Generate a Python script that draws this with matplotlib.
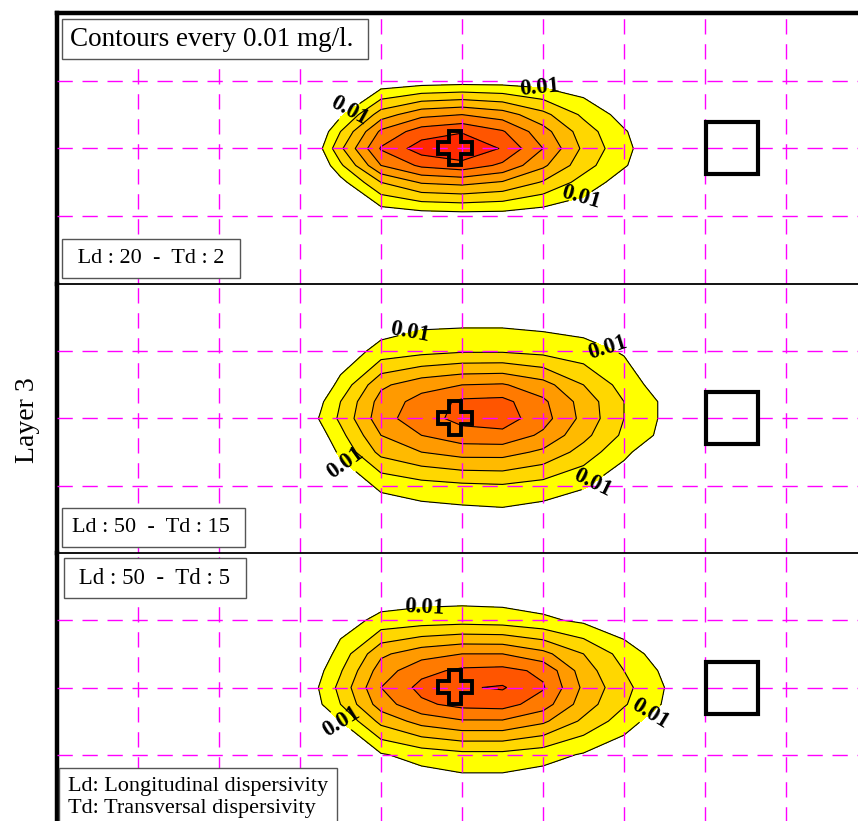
import numpy as np
import matplotlib

matplotlib.use("Agg")
import matplotlib.pyplot as plt

plt.rcParams["font.family"] = ["Liberation Serif", "DejaVu Serif"]

# grid nodes of the concentration field (model units)
x_nodes = [2.5, 3.0, 3.25, 3.5, 4.0, 4.5, 5.0, 5.5, 6.0, 6.5, 7.0, 7.5, 8.0]
y_nodes = [0.5, 1.0, 1.5, 1.75, 2.0, 2.25, 2.5, 3.0, 3.5]

# concentrations in ug/l, one row per y node
conc_ld20_td2 = [
    [0, 0, 0, 0, 0, 0, 0, 0, 0, 0, 0, 0, 0],
    [0, 0, 0, 0, 2, 4, 5, 5, 4, 2, 0, 0, 0],
    [0, 0, 0, 8, 35, 47, 50, 45, 33, 18, 6, 0, 0],
    [0, 0, 3, 20, 52, 65, 69, 61, 44, 25, 11, 0, 0],
    [0, 0, 8, 28, 61, 75, 80, 69, 50, 28, 13, 0, 0],
    [0, 0, 2, 18, 50, 62, 66, 58, 42, 24, 11, 0, 0],
    [0, 0, 0, 6, 30, 41, 43, 39, 29, 16, 5, 0, 0],
    [0, 0, 0, 0, 2, 4, 5, 5, 3, 2, 0, 0, 0],
    [0, 0, 0, 0, 0, 0, 0, 0, 0, 0, 0, 0, 0],
]
conc_ld50_td15 = [
    [0, 0, 0, 0, 2, 6, 6, 6, 5, 4, 2, 0, 0],
    [0, 0, 0, 3, 14, 17, 19, 19, 17, 14, 9, 3, 0],
    [0, 0, 3, 13, 38, 46, 50, 51, 44, 30, 16, 4, 0],
    [0, 0, 8, 20, 44, 54, 62, 63, 52, 36, 20, 8, 0],
    [0, 0, 11, 22, 46, 56, 63, 65, 54, 37, 20, 8, 0],
    [0, 0, 6, 17, 40, 50, 56, 57, 48, 33, 18, 7, 0],
    [0, 0, 2, 12, 33, 40, 44, 44, 38, 26, 12, 2, 0],
    [0, 0, 0, 2, 12, 16, 18, 19, 16, 11, 4, 0, 0],
    [0, 0, 0, 0, 2, 3, 4, 5, 3, 1, 0, 0, 0],
]
conc_ld50_td5 = [
    [0, 0, 0, 0, 1, 2, 2, 2, 1, 0, 0, 0, 0],
    [0, 0, 0, 5, 13, 15, 16, 15, 12, 8, 2, 0, 0],
    [0, 0, 4, 14, 38, 46, 50, 50, 43, 30, 16, 4, 0],
    [0, 0, 8, 19, 45, 57, 62, 63, 58, 35, 20, 8, 0],
    [0, 0, 11, 23, 50, 63, 69, 71, 61, 38, 23, 10, 0],
    [0, 0, 9, 20, 45, 58, 63, 64, 55, 35, 21, 9, 0],
    [0, 0, 2, 10, 33, 44, 49, 49, 42, 28, 15, 3, 0],
    [0, 0, 0, 1, 9, 14, 17, 17, 14, 9, 3, 0, 0],
    [0, 0, 0, 0, 0, 2, 4, 4, 2, 0, 0, 0, 0],
]

levels = [0.01, 0.02, 0.03, 0.04, 0.05, 0.06, 0.07]
source_xy = (4.91, 1.99)
receptor_xy = (8.33, 2.0)

fill_colors = ["#FFFF00", "#FFD700", "#FFBA00", "#FF9A00", "#FF7A00", "#FF5500", "#FF2A00"]

panels = [
    {"conc": conc_ld20_td2, "label": " Ld : 20  -  Td : 2 ",
     "clabels": [(3.62, 1.5), (5.96, 1.1), (6.46, 2.69)]},
    {"conc": conc_ld50_td15, "label": "Ld : 50  -  Td : 15 ",
     "clabels": [(4.36, 0.72), (6.77, 1.08), (3.56, 2.67), (6.64, 3.04)]},
    {"conc": conc_ld50_td5, "label": " Ld : 50  -  Td : 5 ",
     "clabels": [(4.54, 0.81), (3.49, 2.54), (7.32, 2.39)]},
]

W, H = 858, 821
fig = plt.figure(figsize=(W / 100, H / 100), dpi=100)

# pixel extents of the three stacked panels (top, bottom)
rows_px = [(13, 284), (284, 553), (553, 822)]
left_px, width_px = 57, 810


def boxed(pad):
    return dict(boxstyle=f"square,pad={pad}", fc="white", ec="#555555", lw=1.0)


axes = []
for i, (p, (top, bot)) in enumerate(zip(panels, rows_px)):
    ax = fig.add_axes([left_px / W, (H - bot) / H, width_px / W, (bot - top) / H])
    axes.append(ax)
    z = np.array(p["conc"]) / 1000.0

    ax.contourf(x_nodes, y_nodes, z, levels=levels + [1.0], colors=fill_colors, zorder=1)
    cs = ax.contour(x_nodes, y_nodes, z, levels=levels, colors="black", linewidths=0.8, zorder=2)
    outer = [c for c in cs.levels if abs(c - 0.01) < 1e-9]
    lbls = ax.clabel(cs, levels=outer, inline=True, inline_spacing=2, fmt="%.2f",
                     fontsize=16.5, manual=p["clabels"])
    for t in lbls:
        t.set_fontweight("bold")

    ax.plot(*source_xy, marker="P", ms=25, mfc="none", mec="black", mew=2.8, zorder=4)
    ax.plot(*receptor_xy, marker="s", ms=37, mfc="none", mec="black", mew=3, zorder=4)

    ax.set_xlim(0, 10)
    ax.set_ylim(4, 0)
    ax.set_xticks(range(1, 10))
    ax.set_yticks([1, 2, 3])
    ax.tick_params(length=0, labelbottom=False, labelleft=False)
    ax.set_axisbelow(False)
    ax.grid(True, color="#FF00FF", linestyle=(0, (11, 7)), linewidth=1.0)

    ax.spines["left"].set_linewidth(3.2)
    ax.spines["top"].set_linewidth(3.2 if i == 0 else 1.3)
    ax.spines["bottom"].set_visible(False)
    ax.spines["right"].set_visible(False)

ax1, ax2, ax3 = axes
ax1.text(0.016, 0.95, "Contours every 0.01 mg/l. ", transform=ax1.transAxes,
         fontsize=19.5, va="top", ha="left", bbox=boxed(0.28), zorder=5)
ax1.text(0.018, 0.06, panels[0]["label"], transform=ax1.transAxes,
         fontsize=16, va="bottom", ha="left", bbox=boxed(0.45), zorder=5)
ax2.text(0.018, 0.06, panels[1]["label"], transform=ax2.transAxes,
         fontsize=16, va="bottom", ha="left", bbox=boxed(0.45), zorder=5)
ax3.text(0.02, 0.945, panels[2]["label"], transform=ax3.transAxes,
         fontsize=16.5, va="top", ha="left", bbox=boxed(0.42), zorder=5)
ax3.text(0.014, 0.015, "Ld: Longitudinal dispersivity\nTd: Transversal dispersivity",
         transform=ax3.transAxes, fontsize=16, va="bottom", ha="left",
         linespacing=1.2, bbox=boxed(0.4), zorder=5)

fig.text(28 / W, 1 - 420 / H, "Layer 3", rotation=90, fontsize=20, ha="center", va="center")

fig.savefig("out.png", dpi=100)
